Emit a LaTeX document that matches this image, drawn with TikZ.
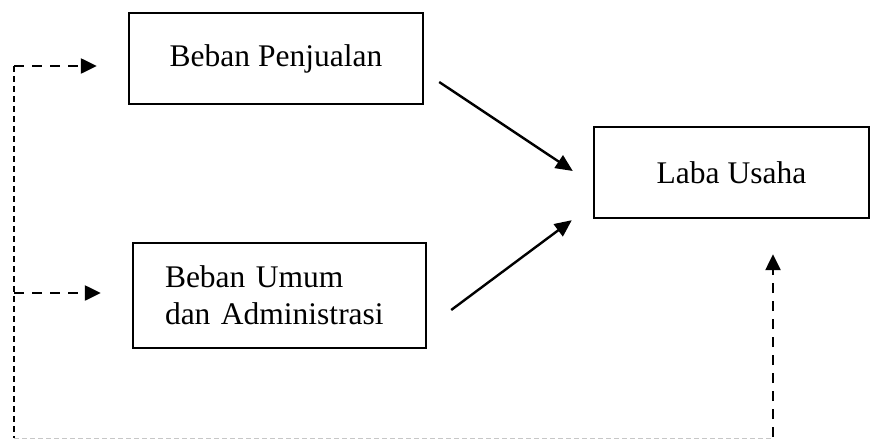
\documentclass[tikz,border=0pt]{standalone}
\usepackage{fontspec}
\setmainfont{Liberation Serif}
\usetikzlibrary{arrows.meta}
\begin{document}
\begin{tikzpicture}[x=1pt,y=-1pt,
  box/.style={draw,line width=2.4pt,rectangle,inner sep=0pt,
    font=\fontsize{31.5}{37}\selectfont},
  solidarrow/.style={line width=2.4pt,-{Triangle[length=17pt,width=15pt]}},
  dasharrow/.style={line width=2.4pt,dash pattern=on 10pt off 8pt,-{Triangle[length=16pt,width=15pt]}},
  leftline/.style={line width=1.6pt,dash pattern=on 6pt off 4pt},
  bottomline/.style={line width=1pt,color=black!22,dash pattern=on 5pt off 3pt}]
\useasboundingbox (0,0) rectangle (877,439);
\node[box,minimum width=294pt,minimum height=91pt] (b1) at (276,58.5) {Beban Penjualan};
\node[box,text width=229pt,inner xsep=32pt,align=left,minimum height=105pt] (b2) at (279.5,295.5) {Beban Umum\\dan Administrasi};
\node[box,minimum width=275pt,minimum height=91pt] (b3) at (731.5,172.5) {Laba Usaha};
\coordinate (tl) at (14,66);
\coordinate (bl) at (14,438);
\coordinate (br) at (773,438);
\draw[solidarrow] ([xshift=15pt,yshift=-23.5pt]b1.east) -- ([xshift=-20pt,yshift=1.5pt]b3.west);
\draw[solidarrow] ([xshift=24pt,yshift=-14.5pt]b2.east) -- ([xshift=-21pt,yshift=-1pt]b3.south west);
\draw[leftline] (tl) -- (bl);
\draw[dasharrow] (tl) -- ([xshift=-31pt,yshift=-7.5pt]b1.west);
\draw[dasharrow] (tl |- b2.west) ++(0,-2.5) coordinate (ml) (ml) -- ([xshift=-31pt,yshift=2.5pt]b2.west);
\draw[bottomline] (bl) -- (br);
\draw[dasharrow] ([yshift=1pt]br) -- ([xshift=41.5pt,yshift=-35pt]b3.south);
\end{tikzpicture}
\end{document}
